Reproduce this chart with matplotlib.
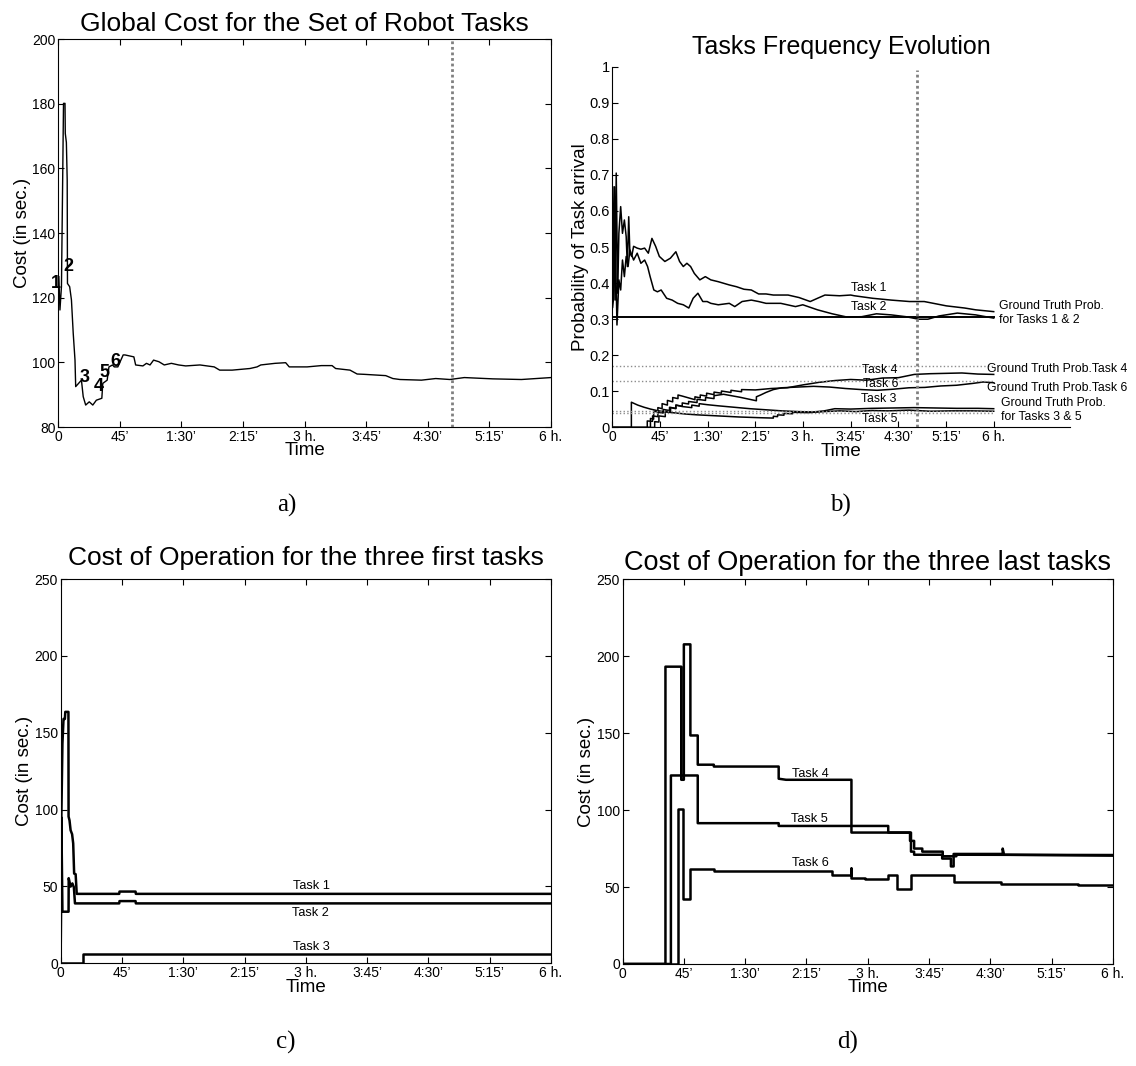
import matplotlib
matplotlib.use("Agg")
import matplotlib.pyplot as plt

plt.rcParams['font.family'] = ['Liberation Sans', 'DejaVu Sans']

# time axis (minutes) shared by all panels
tick_pos = [0, 45, 90, 135, 180, 225, 270, 315, 360]
tick_lbl = ["0", "45’", "1:30’", "2:15’", "3 h.", "3:45’", "4:30’", "5:15’", "6 h."]
marker_t = 287.5

# a) global cost
global_t = [0.5, 1.3, 2.4, 3.4, 3.9, 5.0, 5.2, 6.0, 6.6, 6.8, 8.4, 9.7, 11.0, 12.3, 12.8,
            14.9, 17.0, 18.3, 20.1, 22.7, 25.3, 27.9, 31.9, 32.6, 35.8, 37.1, 39.7, 41.0,
            43.6, 47.5, 48.8, 55.3, 56.6, 61.9, 64.5, 67.1, 69.7, 73.6, 77.5, 82.7, 88.0,
            93.2, 103.6, 114.0, 118.0, 127.1, 140.1, 145.3, 148.0, 158.4, 166.2, 168.8,
            181.9, 192.3, 200.1, 202.7, 213.2, 218.4, 223.6, 239.3, 244.5, 249.7, 265.4,
            275.8, 286.2, 296.7, 317.5, 338.4, 360.0]
global_cost = [126.5, 116.2, 123.4, 160.5, 180.1, 180.1, 170.8, 168.0, 156.4, 124.4, 123.4,
               119.3, 109.0, 100.7, 92.5, 93.5, 94.5, 89.4, 86.8, 87.8, 86.8, 88.3, 88.9,
               93.5, 94.5, 98.6, 99.2, 98.6, 98.6, 102.3, 102.3, 101.7, 99.2, 98.9, 99.7,
               99.2, 100.7, 100.2, 99.2, 99.7, 99.2, 98.9, 99.2, 98.6, 97.6, 97.6, 98.1,
               98.6, 99.2, 99.7, 99.9, 98.6, 98.6, 99.0, 99.0, 98.1, 97.6, 96.4, 96.3, 95.9,
               95.0, 94.7, 94.5, 95.0, 94.7, 95.3, 94.9, 94.7, 95.3]
arrival_lbl = ["1", "2", "3", "4", "5", "6"]
arrival_t = [-1.5, 7.1, 19.3, 29.8, 34.0, 41.8]
arrival_cost = [124.4, 129.6, 95.2, 92.5, 96.8, 100.4]

# b) task frequencies
freq1_t = [0.3, 1.0, 2.0, 2.7, 3.7, 5.1, 6.2, 7.9, 9.6, 11.4, 13.1, 14.2, 15.5, 16.6, 18.3,
           20.1, 23.5, 27.0, 30.5, 34.0, 37.4, 40.9, 44.4, 49.6, 54.8, 60.0, 63.5, 67.0,
           70.4, 73.9, 77.4, 82.6, 87.8, 93.0, 100.0, 110.4, 117.3, 124.3, 131.2, 138.1,
           145.1, 152.0, 165.9, 176.3, 186.8, 193.7, 200.7, 214.5, 225.0, 228.4, 245.8,
           263.2, 280.5, 294.4, 315.3, 332.6, 343.0, 360.0]
freq1_p = [0.667, 0.353, 0.667, 0.353, 0.705, 0.372, 0.538, 0.612, 0.538, 0.575, 0.529,
           0.446, 0.584, 0.483, 0.474, 0.502, 0.497, 0.494, 0.497, 0.483, 0.524, 0.502,
           0.474, 0.460, 0.469, 0.487, 0.460, 0.446, 0.455, 0.446, 0.427, 0.409, 0.418,
           0.409, 0.404, 0.395, 0.390, 0.383, 0.381, 0.370, 0.370, 0.367, 0.367, 0.360,
           0.349, 0.358, 0.367, 0.365, 0.367, 0.365, 0.358, 0.353, 0.349, 0.349, 0.337,
           0.331, 0.326, 0.321]
freq2_t = [0.3, 1.0, 2.7, 4.4, 6.2, 7.9, 9.6, 11.4, 13.1, 14.9, 16.6, 20.1, 23.5, 27.0, 30.5,
           33.3, 35.7, 39.2, 42.6, 46.1, 51.3, 56.5, 61.7, 67.0, 72.2, 76.3, 80.8, 85.4,
           89.5, 93.0, 100.0, 110.4, 115.6, 122.5, 131.2, 138.1, 145.1, 159.0, 172.9,
           179.8, 193.7, 207.6, 221.5, 235.4, 249.3, 263.2, 277.1, 289.2, 297.9, 308.3,
           325.7, 343.0, 360.0]
freq2_p = [0.333, 0.353, 0.538, 0.284, 0.409, 0.381, 0.464, 0.418, 0.474, 0.446, 0.492,
           0.464, 0.483, 0.455, 0.464, 0.446, 0.418, 0.381, 0.376, 0.381, 0.358, 0.353,
           0.344, 0.340, 0.331, 0.358, 0.372, 0.349, 0.349, 0.344, 0.340, 0.344, 0.335,
           0.349, 0.353, 0.349, 0.344, 0.344, 0.335, 0.340, 0.326, 0.315, 0.306, 0.307,
           0.315, 0.312, 0.307, 0.300, 0.300, 0.309, 0.317, 0.312, 0.303]
freq3_t = [0, 33, 33, 38, 38, 43, 43, 48, 48, 54, 54, 60, 60, 66, 75, 75, 82, 82, 90, 100,
           115, 130, 145, 160, 175, 190, 200, 210, 225, 245, 265, 285, 305, 325, 345, 360]
freq3_p = [0, 0, 0.018, 0.017, 0.032, 0.030, 0.042, 0.040, 0.050, 0.047, 0.056, 0.053,
           0.062, 0.058, 0.055, 0.062, 0.059, 0.066, 0.063, 0.060, 0.056, 0.052, 0.049,
           0.046, 0.044, 0.043, 0.046, 0.052, 0.051, 0.053, 0.054, 0.055, 0.054, 0.053,
           0.053, 0.052]
freq4_t = [0, 36, 36, 39, 39, 43, 43, 47, 47, 52, 52, 57, 57, 62, 62, 66, 78, 78, 83, 83,
           89, 89, 96, 96, 103, 103, 112, 112, 122, 122, 135, 150, 165, 180, 195, 210, 225,
           240, 255, 270, 285, 300, 315, 330, 345, 360]
freq4_p = [0, 0, 0.025, 0.023, 0.045, 0.043, 0.055, 0.052, 0.066, 0.062, 0.075, 0.071,
           0.083, 0.080, 0.090, 0.087, 0.077, 0.085, 0.082, 0.090, 0.087, 0.095, 0.091,
           0.098, 0.095, 0.101, 0.097, 0.103, 0.099, 0.105, 0.104, 0.108, 0.110, 0.118,
           0.125, 0.130, 0.133, 0.131, 0.137, 0.138, 0.147, 0.149, 0.150, 0.151, 0.148,
           0.147]
freq5_t = [0, 18, 18, 24, 30, 36, 42, 50, 60, 70, 80, 100, 120, 140, 152, 152, 156, 156,
           162, 162, 170, 170, 185, 200, 215, 230, 245, 260, 280, 300, 320, 340, 360]
freq5_p = [0, 0, 0.070, 0.062, 0.056, 0.051, 0.047, 0.043, 0.040, 0.037, 0.035, 0.032,
           0.029, 0.027, 0.026, 0.031, 0.030, 0.035, 0.034, 0.039, 0.038, 0.042, 0.041,
           0.044, 0.046, 0.044, 0.047, 0.046, 0.048, 0.045, 0.046, 0.046, 0.045]
freq6_t = [0, 40, 40, 44, 44, 50, 50, 55, 55, 60, 60, 66, 66, 72, 72, 80, 80, 88, 88, 96,
           96, 105, 120, 136, 136, 140, 145, 152, 160, 175, 190, 205, 220, 235, 250, 265,
           280, 295, 310, 325, 340, 350, 360]
freq6_p = [0, 0, 0.016, 0.015, 0.032, 0.030, 0.045, 0.043, 0.055, 0.052, 0.062, 0.059,
           0.068, 0.065, 0.072, 0.069, 0.078, 0.075, 0.083, 0.080, 0.088, 0.092, 0.084,
           0.074, 0.085, 0.090, 0.097, 0.105, 0.110, 0.112, 0.114, 0.112, 0.108, 0.105,
           0.103, 0.106, 0.110, 0.111, 0.115, 0.117, 0.122, 0.126, 0.124]
truth_12 = 0.305
truth_dotted = [0.17, 0.13, 0.047, 0.041]

# c) cost of the first three tasks
cost1_t = [0, 0.5, 1.3, 2.1, 3.1, 3.4, 5.7, 5.8, 6.5, 7.3, 8.4, 9.2, 9.9, 11.0, 11.8, 43.0,
           43.2, 55.0, 55.2, 360]
cost1_v = [0, 95, 143, 159, 159, 163.6, 163.6, 95.5, 93, 86.6, 84, 78, 58.4, 58, 45.2, 45.2,
           46.7, 46.7, 45.2, 45.2]
cost2_t = [0, 0.5, 1.3, 5.8, 5.9, 7.3, 8.6, 9.7, 10.5, 43.0, 43.2, 55.0, 55.2, 360]
cost2_v = [0, 95, 33.6, 33.6, 55.4, 49.9, 52, 49.5, 39, 39, 40.5, 40.5, 39, 39]
cost3_t = [0, 16.2, 16.2, 360]
cost3_v = [0, 0, 5.8, 5.8]

# d) cost of the last three tasks
cost4_t = [0, 31.5, 31.5, 43.1, 43.1, 45, 45, 49.8, 49.8, 55.2, 55.2, 67, 67, 114.6, 114.6,
           120, 168, 168, 211, 211, 214, 214, 220, 220, 235, 235, 245, 245, 360]
cost4_v = [0, 0, 193.2, 193.2, 119.7, 119.7, 207.7, 207.7, 148.5, 148.5, 129.5, 129.5,
           128.3, 128.3, 120.4, 119.7, 119.7, 85.4, 85.4, 80, 80, 75, 75, 73, 73, 70, 70,
           71, 70.8]
cost5_t = [0, 35.5, 35.5, 55.2, 55.2, 114.6, 114.6, 195, 195, 211.7, 211.7, 214, 214, 234.6,
           234.6, 241, 241, 243, 243, 279, 279, 280, 360]
cost5_v = [0, 0, 122.5, 122.5, 91.5, 91.5, 89.7, 89.7, 85.4, 85.4, 73, 73, 71, 71, 68.5,
           68.5, 63.4, 63.4, 71.5, 71.5, 75, 71, 70.4]
cost6_t = [0, 40.4, 40.4, 44.4, 44.4, 49.8, 49.8, 67.4, 67.4, 153.7, 153.7, 168, 168, 168,
           178, 178, 195, 195, 201.7, 201.7, 211.7, 211.7, 243, 243, 277.7, 277.7, 334.4,
           334.4, 360]
cost6_v = [0, 0, 100.5, 100.5, 42.4, 42.4, 61.6, 61.6, 60.5, 60.5, 57.9, 57.9, 62.1, 56.1,
           56.1, 55, 55, 57.9, 57.9, 49, 49, 57.9, 57.9, 53.3, 53.3, 52.2, 52.2, 51.1, 51.1]


def time_axis(ax):
    ax.set_xticks(tick_pos)
    ax.set_xticklabels(tick_lbl)
    ax.set_xlabel("Time", fontsize=13.5, labelpad=-1)
    ax.tick_params(direction='in', length=4, labelsize=10, pad=2)


fig = plt.figure(figsize=(11.36, 10.66), dpi=100)

# ---- a)
ax = fig.add_axes([0.0512, 0.5994, 0.4338, 0.3640])
ax.plot(global_t, global_cost, color='black', lw=1.0)
ax.axvline(marker_t, color='0.5', lw=2, ls=(0, (1, 1)))
for lbl, t, c in zip(arrival_lbl, arrival_t, arrival_cost):
    ax.text(t, c, lbl, fontsize=13, fontweight='bold', ha='center', va='center', clip_on=False)
ax.set_xlim(0, 360)
ax.set_ylim(80, 200)
ax.set_yticks([80, 100, 120, 140, 160, 180, 200])
time_axis(ax)
ax.tick_params(top=True, right=True)
ax.set_ylabel("Cost (in sec.)", fontsize=13.5, labelpad=1)
ax.set_title("Global Cost for the Set of Robot Tasks", fontsize=19, pad=6)

# ---- b)
ax = fig.add_axes([0.539, 0.599, 0.4029, 0.3385])
for tt, pp in [(freq1_t, freq1_p), (freq2_t, freq2_p), (freq3_t, freq3_p),
               (freq4_t, freq4_p), (freq5_t, freq5_p), (freq6_t, freq6_p)]:
    ax.plot(tt, pp, color='black', lw=1.1)
ax.plot([0, 360], [truth_12, truth_12], color='black', lw=1.4)
for g in truth_dotted:
    ax.plot([0, 360], [g, g], color='0.55', lw=1.0, ls=':')
ax.plot([marker_t, marker_t], [0, 0.99], color='0.5', lw=2, ls=(0, (1, 1)))
ax.set_xlim(0, 432)
ax.set_ylim(0, 1)
ax.set_yticks([0, 0.1, 0.2, 0.3, 0.4, 0.5, 0.6, 0.7, 0.8, 0.9, 1])
ax.set_yticklabels(["0", "0.1", "0.2", "0.3", "0.4", "0.5", "0.6", "0.7", "0.8", "0.9", "1"])
time_axis(ax)
ax.tick_params(axis='y', labelsize=10.5)
ax.spines['top'].set_visible(False)
ax.spines['right'].set_visible(False)
ax.set_ylabel("Probability of Task arrival", fontsize=13.5, labelpad=0)
ax.set_title("Tasks Frequency Evolution", fontsize=18, pad=9)
small = 8.8
ax.text(242.3, 0.386, "Task 1", fontsize=small, ha='center', va='center')
ax.text(241.6, 0.333, "Task 2", fontsize=small, ha='center', va='center')
ax.text(252, 0.159, "Task 4", fontsize=small, ha='center', va='center')
ax.text(253.7, 0.120, "Task 6", fontsize=small, ha='center', va='center')
ax.text(251, 0.078, "Task 3", fontsize=small, ha='center', va='center')
ax.text(252, 0.024, "Task 5", fontsize=small, ha='center', va='center')
ax.text(364.9, 0.317, "Ground Truth Prob.\nfor Tasks 1 & 2", fontsize=small,
        ha='left', va='center', linespacing=1.15)
ax.text(353.9, 0.161, "Ground Truth Prob.Task 4", fontsize=small, ha='left', va='center')
ax.text(353.3, 0.110, "Ground Truth Prob.Task 6", fontsize=small, ha='left', va='center')
ax.text(367.2, 0.048, "Ground Truth Prob.\nfor Tasks 3 & 5", fontsize=small,
        ha='left', va='center', linespacing=1.15)

# ---- c)
ax = fig.add_axes([0.0534, 0.0963, 0.4316, 0.3605])
for tt, vv in [(cost1_t, cost1_v), (cost2_t, cost2_v), (cost3_t, cost3_v)]:
    ax.plot(tt, vv, color='black', lw=1.8)
ax.set_xlim(0, 360)
ax.set_ylim(0, 250)
ax.set_yticks([0, 50, 100, 150, 200, 250])
time_axis(ax)
ax.tick_params(top=True, right=True)
ax.set_ylabel("Cost (in sec.)", fontsize=13.5, labelpad=1)
ax.set_title("Cost of Operation for the three first tasks", fontsize=19, pad=10)
ax.text(184, 50.4, "Task 1", fontsize=9.2, ha='center', va='center')
ax.text(183.5, 32.5, "Task 2", fontsize=9.2, ha='center', va='center')
ax.text(184, 10.4, "Task 3", fontsize=9.2, ha='center', va='center')

# ---- d)
ax = fig.add_axes([0.548, 0.0957, 0.4318, 0.3609])
for tt, vv in [(cost4_t, cost4_v), (cost5_t, cost5_v), (cost6_t, cost6_v)]:
    ax.plot(tt, vv, color='black', lw=1.8)
ax.set_xlim(0, 360)
ax.set_ylim(0, 250)
ax.set_yticks([0, 50, 100, 150, 200, 250])
time_axis(ax)
ax.tick_params(top=True, right=True)
ax.set_ylabel("Cost (in sec.)", fontsize=13.5, labelpad=1)
ax.set_title("Cost of Operation for the three last tasks", fontsize=19.5, pad=7)
ax.text(138, 123.3, "Task 4", fontsize=9.2, ha='center', va='center')
ax.text(137.5, 94, "Task 5", fontsize=9.2, ha='center', va='center')
ax.text(138, 65.8, "Task 6", fontsize=9.2, ha='center', va='center')

# panel captions
for x, y, s in [(287, 505, "a)"), (840, 505, "b)"), (286, 1042, "c)"), (848, 1042, "d)")]:
    fig.text(x / 1136, 1 - y / 1066, s, fontsize=18, family='Liberation Serif',
             ha='center', va='center')

fig.savefig("out.png", dpi=100)
